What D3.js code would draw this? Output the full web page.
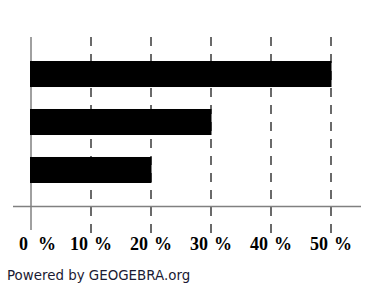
<!DOCTYPE html>
<html>
<head>
<meta charset="utf-8">
<script src="https://cdn.jsdelivr.net/npm/d3@7"></script>
<style>
  body { margin: 0; background: #fff; }
</style>
</head>
<body>
<div id="chart"></div>
<script>
const categories = ["a", "b", "c"];
const values = [50, 30, 20];
const ticks = [0, 10, 20, 30, 40, 50];

const width = 378;
const height = 296;

const svg = d3.select("#chart")
    .append("svg")
    .attr("width", width)
    .attr("height", height);

const x = d3.scaleLinear()
    .domain([0, 50])
    .range([31, 331]);

const y = d3.scaleBand()
    .domain(categories)
    .range([61, 183])
    .paddingInner(0.458)
    .paddingOuter(0);

// dashed grid lines
svg.append("g")
    .selectAll("line")
    .data(ticks.slice(1))
    .join("line")
        .attr("x1", d => x(d))
        .attr("x2", d => x(d))
        .attr("y1", 37)
        .attr("y2", 234)
        .attr("stroke", "#3a3a3a")
        .attr("stroke-width", 1.5)
        .attr("stroke-dasharray", "9,8");

// axes lines
svg.append("line")
    .attr("x1", 13).attr("x2", 361)
    .attr("y1", 206.5).attr("y2", 206.5)
    .attr("stroke", "#808080")
    .attr("stroke-width", 1.5);

svg.append("line")
    .attr("x1", x(0)).attr("x2", x(0))
    .attr("y1", 37).attr("y2", 230)
    .attr("stroke", "#808080")
    .attr("stroke-width", 1.5);

// bars
svg.append("g")
    .selectAll("rect")
    .data(values)
    .join("rect")
        .attr("x", x(0) - 1)
        .attr("y", (d, i) => y(categories[i]))
        .attr("width", d => x(d) - x(0) + 1.5)
        .attr("height", y.bandwidth())
        .attr("fill", "#000");

// tick labels: number left of the line, percent sign right of it
const labels = svg.append("g")
    .attr("font-family", "'Liberation Serif', 'DejaVu Serif', serif")
    .attr("font-weight", "bold")
    .attr("font-size", "18px")
    .attr("fill", "#000");

labels.selectAll("text.num")
    .data(ticks)
    .join("text")
        .attr("class", "num")
        .attr("x", d => x(d) - 3)
        .attr("y", 250)
        .attr("text-anchor", "end")
        .text(d => d);

labels.selectAll("text.pct")
    .data(ticks)
    .join("text")
        .attr("class", "pct")
        .attr("x", d => x(d) + (d === 0 ? 7 : 3))
        .attr("y", 250)
        .text("%");

svg.append("text")
    .attr("x", 7)
    .attr("y", 280)
    .attr("font-family", "'DejaVu Sans', sans-serif")
    .attr("font-size", "13.4px")
    .attr("fill", "#1a1a33")
    .text("Powered by GEOGEBRA.org");
</script>
</body>
</html>
